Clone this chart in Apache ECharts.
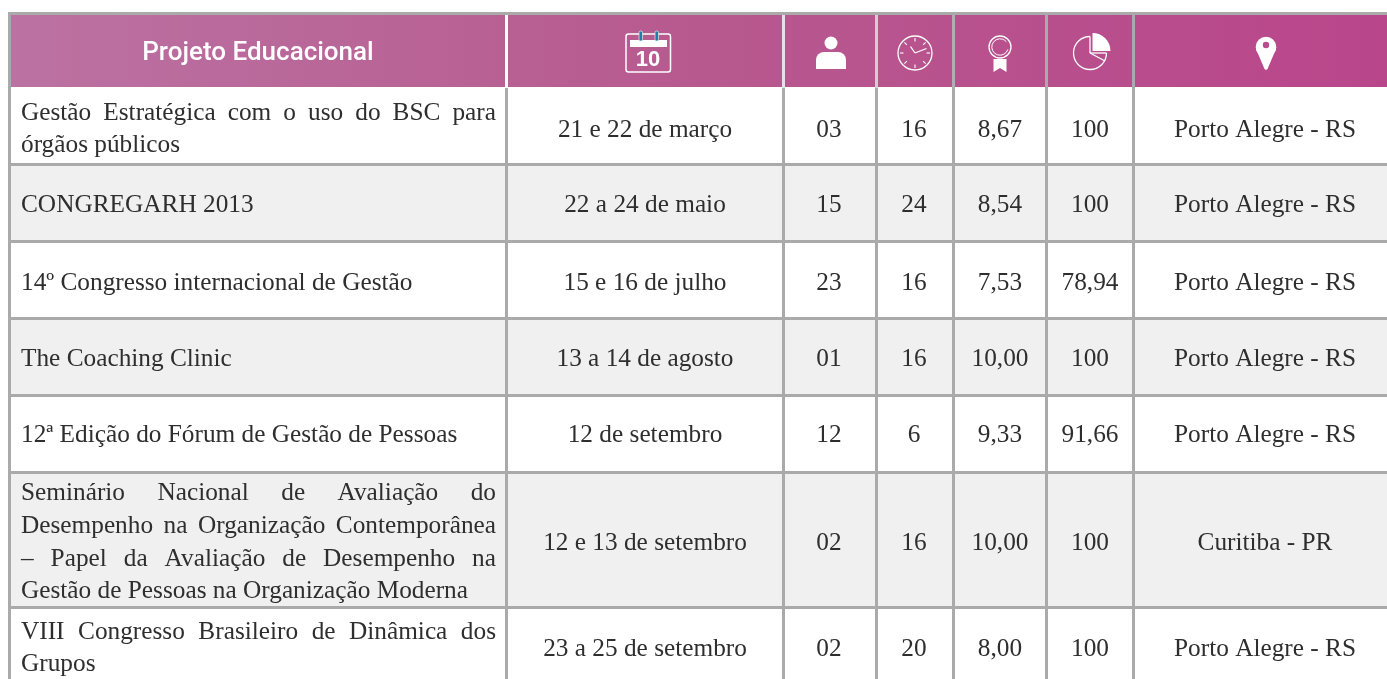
<!DOCTYPE html>
<html><head><meta charset="utf-8">
<style>html,body{margin:0;padding:0;background:#fff}#c{width:1387px;height:679px}</style>
<script src="https://cdn.jsdelivr.net/npm/echarts@6/dist/echarts.min.js"></script>
</head><body><div id="c"></div>
<script>
const headerTitle = 'Projeto Educacional';
const projects = [
  ['Gestão Estratégica com o uso do BSC para', 'órgãos públicos'],
  ['CONGREGARH 2013'],
  ['14º Congresso internacional de Gestão'],
  ['The Coaching Clinic'],
  ['12ª Edição do Fórum de Gestão de Pessoas'],
  ['Seminário Nacional de Avaliação do', 'Desempenho na Organização Contemporânea', '– Papel da Avaliação de Desempenho na', 'Gestão de Pessoas na Organização Moderna'],
  ['VIII Congresso Brasileiro de Dinâmica dos', 'Grupos']
];
const justifiedLines = [[0], [], [], [], [], [0, 1, 2], [0]];
const dates = ['21 e 22 de março', '22 a 24 de maio', '15 e 16 de julho', '13 a 14 de agosto', '12 de setembro', '12 e 13 de setembro', '23 a 25 de setembro'];
const participants = ['03', '15', '23', '01', '12', '02', '02'];
const hours = ['16', '24', '16', '16', '6', '16', '20'];
const scores = ['8,67', '8,54', '7,53', '10,00', '9,33', '10,00', '8,00'];
const percents = ['100', '100', '78,94', '100', '91,66', '100', '100'];
const places = ['Porto Alegre - RS', 'Porto Alegre - RS', 'Porto Alegre - RS', 'Porto Alegre - RS', 'Porto Alegre - RS', 'Curitiba - PR', 'Porto Alegre - RS'];

// layout
const W = 1387, H = 679;
const colLines = [505, 782, 875, 952, 1045, 1132];
const colCenters = [645, 829, 914, 1000, 1090, 1265];
const headLineColors = ['#ffffff', '#e4e0e3', '#d2ced1', '#b0aeb0', '#aaaaaa', '#aaaaaa'];
const rowTops = [88, 166, 243, 320, 397, 474, 609];
const rowBottoms = [163, 240, 317, 394, 471, 606, 679];
const rowMiddles = [130, 205, 283, 359, 435, 543, 649];
const lineYs = [[113, 145], [205], [283], [359], [435], [493, 526, 559, 591], [632, 664]];
const GREY = '#aaaaaa', INK = '#2e2e2e';
const FONT = '25.3px "Liberation Serif"';
const TL = 21, TR = 496;

const measure = document.createElement('canvas').getContext('2d');
function textW(s) { measure.font = FONT; return measure.measureText(s).width; }

const chart = echarts.init(document.getElementById('c'), null, {renderer: 'canvas'});
const rows = projects.map((_, i) => i);

function txt(x, y, s, align, font, fill) {
  return {type: 'text', x, y, silent: true, style: {text: s, align: align || 'center', verticalAlign: 'middle', font: font || FONT, fill: fill || INK}};
}
function rect(x, y, w, h, fill) {
  return {type: 'rect', shape: {x, y, width: w, height: h}, silent: true, style: {fill}};
}

function renderRow(params, api) {
  const i = api.value(0);
  const P = v => api.coord(v);
  const [x0, y0] = P([11, rowTops[i]]);
  const [x1, y1] = P([W, rowBottoms[i]]);
  const kids = [];
  kids.push(rect(x0, y0, x1 - x0, y1 - y0, i % 2 ? '#f0f0f0' : '#ffffff'));
  projects[i].forEach((line, li) => {
    const y = P([0, lineYs[i][li]])[1];
    if (justifiedLines[i].includes(li)) {
      const words = line.split(' ');
      const total = words.reduce((a, w) => a + textW(w), 0);
      const gap = (TR - TL - total) / (words.length - 1);
      let cx = TL;
      words.forEach(w => { kids.push(txt(P([cx, 0])[0], y, w, 'left')); cx += textW(w) + gap; });
    } else {
      kids.push(txt(P([TL, 0])[0], y, line, 'left'));
    }
  });
  const cols = [dates, participants, hours, scores, percents, places];
  cols.forEach((c, ci) => {
    const p = P([colCenters[ci], rowMiddles[i]]);
    kids.push(txt(p[0], p[1], c[i], 'center'));
  });
  return {type: 'group', children: kids};
}

function renderFrame(params, api) {
  const P = v => api.coord(v);
  const kids = [];
  const hdr = rect(P([8, 15])[0], P([8, 15])[1], W - 8, 72, new echarts.graphic.LinearGradient(0, 0, 1, 0, [
    {offset: 0, color: '#bb72a2'}, {offset: 0.5, color: '#b7598f'}, {offset: 1, color: '#b9468b'}
  ]));
  kids.push(hdr);
  kids.push(rect(P([8, 12])[0], P([8, 12])[1], W - 8, 3, GREY));
  kids.push(rect(P([8, 12])[0], P([8, 12])[1], 3, H - 12, GREY));
  rowBottoms.slice(0, -1).forEach(y => {
    const p = P([11, y]);
    kids.push(rect(p[0], p[1], W - 11, 3, GREY));
  });
  colLines.forEach((x, k) => {
    kids.push(rect(P([x, 0])[0], P([0, 15])[1], 3, 73, headLineColors[k]));
    kids.push(rect(P([x, 0])[0], P([0, 88])[1], 3, H - 88, GREY));
  });
  kids.push(txt(P([258, 0])[0], P([0, 53])[1], headerTitle, 'center', '500 26px Roboto', '#ffffff'));
  // calendar icon
  const W1 = '#ffffff';
  const stroke = (lw) => ({stroke: W1, fill: 'none', lineWidth: lw || 1.4});
  const at = (x, y) => P([x, y]);
  const c0 = at(626, 34);
  kids.push({type: 'rect', shape: {x: c0[0], y: c0[1], width: 44.5, height: 38, r: 2.5}, style: stroke(1.5), silent: true});
  kids.push(rect(at(630, 40)[0], at(630, 40)[1], 37, 7, W1));
  [639, 655].forEach(x => {
    const p = at(x, 31);
    kids.push({type: 'rect', shape: {x: p[0], y: p[1], width: 3.5, height: 10, r: 1.5}, style: {fill: '#1a7fae', stroke: '#f0e8ee', lineWidth: 0.7}, silent: true});
  });
  kids.push(txt(at(648, 0)[0], at(0, 60)[1], '10', 'center', 'bold 22px "Liberation Sans"', W1));
  // person icon
  const hp = at(831, 43);
  kids.push({type: 'circle', shape: {cx: hp[0], cy: hp[1], r: 6.5}, style: {fill: W1}, silent: true});
  kids.push({type: 'rect', shape: {x: at(816, 52)[0], y: at(816, 52)[1], width: 30, height: 17, r: [8, 8, 0, 0]}, style: {fill: W1}, silent: true});
  // clock icon
  const cc = at(915, 53);
  kids.push({type: 'circle', shape: {cx: cc[0], cy: cc[1], r: 17}, style: stroke(1.3), silent: true});
  for (let a = 0; a < 8; a++) {
    const ang = a * Math.PI / 4;
    const s = Math.sin(ang), co = Math.cos(ang);
    kids.push({type: 'line', shape: {x1: cc[0] + s * 11.5, y1: cc[1] - co * 11.5, x2: cc[0] + s * 15, y2: cc[1] - co * 15}, style: {stroke: W1, lineWidth: 1.1}, silent: true});
  }
  kids.push({type: 'line', shape: {x1: cc[0], y1: cc[1], x2: cc[0] - 4.5, y2: cc[1] - 6.5}, style: {stroke: W1, lineWidth: 1.3}, silent: true});
  kids.push({type: 'line', shape: {x1: cc[0], y1: cc[1], x2: cc[0] + 11.5, y2: cc[1] - 4.5}, style: {stroke: W1, lineWidth: 1.3}, silent: true});
  // medal icon
  const mc = at(1000, 47);
  kids.push({type: 'circle', shape: {cx: mc[0], cy: mc[1], r: 11}, style: stroke(1.3), silent: true});
  kids.push({type: 'arc', shape: {cx: mc[0], cy: mc[1], r: 8.2, startAngle: 0.3, endAngle: 5.6}, style: stroke(1), silent: true});
  kids.push({type: 'polygon', shape: {points: [at(993.5, 59), at(1006.5, 59), at(1006.5, 72), at(1000, 68), at(993.5, 72)]}, style: {fill: W1}, silent: true});
  // pie icon
  const pc = at(1090, 53);
  kids.push({type: 'arc', shape: {cx: pc[0], cy: pc[1], r: 16.5, startAngle: -Math.PI / 2, endAngle: 0, clockwise: false}, style: stroke(1.3), silent: true});
  const sc = at(1092.5, 51);
  kids.push({type: 'sector', shape: {cx: sc[0], cy: sc[1], r0: 0, r: 18, startAngle: -Math.PI / 2, endAngle: 0}, style: {fill: W1}, silent: true});
  kids.push({type: 'line', shape: {x1: pc[0], y1: pc[1] - 16.5, x2: pc[0], y2: pc[1]}, style: {stroke: W1, lineWidth: 1.3}, silent: true});
  kids.push({type: 'line', shape: {x1: pc[0], y1: pc[1], x2: pc[0] + 15, y2: pc[1] + 8}, style: {stroke: W1, lineWidth: 1.3}, silent: true});
  kids.push({type: 'line', shape: {x1: pc[0], y1: pc[1], x2: pc[0] + 16.5, y2: pc[1]}, style: {stroke: W1, lineWidth: 1.3}, silent: true});
  // pin icon
  const pn = at(1266, 47);
  kids.push({type: 'circle', shape: {cx: pn[0], cy: pn[1], r: 10.3}, style: {fill: W1}, silent: true});
  kids.push({type: 'polygon', shape: {points: [at(1256, 49), at(1276, 49), at(1267.5, 69), at(1266, 70), at(1264.5, 69)]}, style: {fill: W1}, silent: true});
  const ph = at(1266, 45);
  kids.push({type: 'circle', shape: {cx: ph[0], cy: ph[1], r: 3.2}, style: {fill: '#b84c8d'}, silent: true});
  return {type: 'group', children: kids};
}

chart.setOption({
  animation: false,
  backgroundColor: '#ffffff',
  tooltip: {show: false},
  grid: {left: 0, right: 0, top: 0, bottom: 0},
  xAxis: {type: 'value', min: 0, max: W, show: false},
  yAxis: {type: 'value', min: 0, max: H, inverse: true, show: false},
  series: [
    {type: 'custom', coordinateSystem: 'cartesian2d', silent: true, clip: false, z: 1, data: rows.map(i => [i]), encode: {x: [], y: []}, renderItem: renderRow},
    {type: 'custom', coordinateSystem: 'cartesian2d', silent: true, clip: false, z: 2, data: [[0]], encode: {x: [], y: []}, renderItem: renderFrame}
  ]
});
</script></body></html>
